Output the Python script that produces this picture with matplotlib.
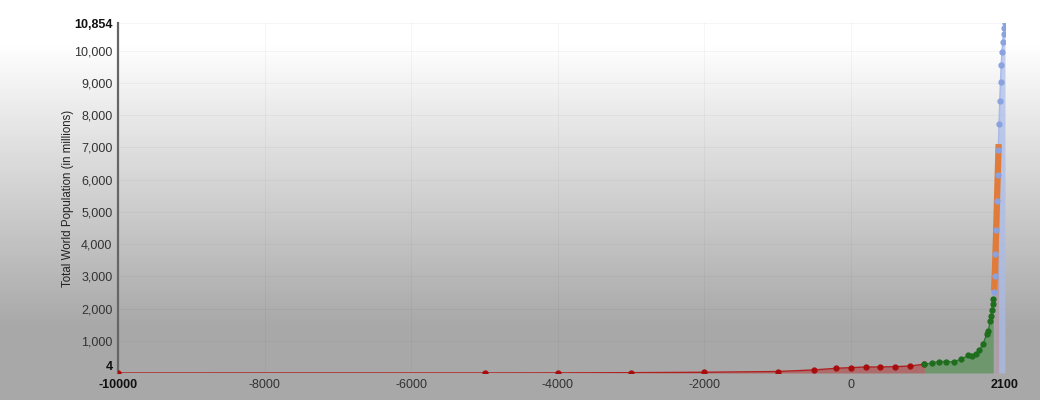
import numpy as np
import matplotlib
matplotlib.use("Agg")
import matplotlib.pyplot as plt
from matplotlib.colors import LinearSegmentedColormap

# ancient estimates (red)
ancient_years = [-10000, -5000, -4000, -3000, -2000, -1000, -500, -200, 0, 200, 400, 600, 800, 1000]
ancient_pop = [4, 5, 7, 14, 27, 50, 100, 150, 170, 190, 190, 200, 220, 275]

# historical estimates (green)
hist_years = [1000, 1100, 1200, 1300, 1400, 1500, 1600, 1650, 1700, 1750, 1800, 1850, 1870,
              1900, 1910, 1920, 1930, 1940]
hist_pop = [275, 310, 360, 360, 350, 430, 550, 545, 600, 720, 900, 1200, 1300,
            1620, 1780, 1950, 2150, 2300]

# annual estimates (orange)
annual_years = list(range(1950, 2014))
annual_pop = [2557, 2594, 2636, 2682, 2730, 2782, 2835, 2891, 2948, 3001,
              3043, 3084, 3140, 3210, 3281, 3350, 3421, 3490, 3562, 3637,
              3713, 3790, 3867, 3942, 4017, 4089, 4160, 4232, 4304, 4379,
              4451, 4534, 4615, 4696, 4775, 4856, 4941, 5029, 5117, 5205,
              5295, 5381, 5463, 5543, 5622, 5700, 5777, 5854, 5929, 6004,
              6080, 6155, 6230, 6305, 6380, 6456, 6532, 6609, 6687, 6764,
              6843, 6921, 7002, 7100]

# UN estimates / projections (blue)
proj_years = [1950, 1960, 1970, 1980, 1990, 2000, 2010, 2020, 2030, 2040,
              2050, 2060, 2070, 2080, 2090, 2100]
proj_pop = [2526, 3026, 3691, 4449, 5321, 6128, 6916, 7717, 8425, 9039,
            9551, 9957, 10271, 10527, 10712, 10854]

y_ticks = [4, 1000, 2000, 3000, 4000, 5000, 6000, 7000, 8000, 9000, 10000, 10854]
x_ticks = [-10000, -8000, -6000, -4000, -2000, 0, 2100]

plt.rcParams['font.family'] = ['Liberation Sans', 'DejaVu Sans']

fig = plt.figure(figsize=(10.4, 4), dpi=100)

# background gradient
bg = fig.add_axes([0, 0, 1, 1], zorder=-10)
grad_cmap = LinearSegmentedColormap.from_list(
    "bg", [(0, "#ffffff"), (0.11, "#ffffff"), (0.82, "#a8a8a8"), (1, "#a8a8a8")])
bg.imshow(np.linspace(0, 1, 400).reshape(-1, 1), aspect="auto", cmap=grad_cmap,
          extent=[0, 1, 0, 1], origin="upper")
bg.axis("off")

ax = fig.add_axes([118 / 1040, 27 / 400, 887 / 1040, 350 / 400])
ax.set_facecolor("none")

ax.fill_between(ancient_years, ancient_pop, 4, color="#b23a3a", alpha=0.55, lw=0, zorder=2)
ax.plot(ancient_years, ancient_pop, color="#b02020", lw=1, marker="o", ms=3.5,
        mfc="#a80d0d", mec="#a80d0d", zorder=5)

ax.fill_between(hist_years, hist_pop, 4, color="#3f8a3f", alpha=0.55, lw=0, zorder=2)
ax.plot(hist_years, hist_pop, color="#2a7a2a", lw=1, marker="o", ms=3.5,
        mfc="#1e6e1e", mec="#1e6e1e", zorder=5)

ax.fill_between(proj_years, proj_pop, 4, color="#a9bbea", alpha=0.7, lw=0, zorder=3)
ax.plot(proj_years, proj_pop, color="#a9bbea", lw=1.2, zorder=4)

ax.fill_between(annual_years, annual_pop, 4, color="#c06a40", alpha=0.3, lw=0, zorder=3)
ax.plot(annual_years, annual_pop, color="#e07b39", lw=4.5, solid_capstyle="butt", zorder=6)

ax.plot(proj_years, proj_pop, ls="none", marker="o", ms=3.5,
        mfc="#8aa2e0", mec="#8aa2e0", zorder=7)

ax.set_xlim(-10000, 2100)
ax.set_ylim(4, 10854)
ax.set_xticks(x_ticks)
ax.set_yticks(y_ticks)
ax.set_xticklabels([str(v) for v in x_ticks])
ax.set_yticklabels(["{:,}".format(v) for v in y_ticks])
ax.tick_params(length=0, labelsize=9, labelcolor="#333333")
ax.tick_params(axis="y", pad=4)
ax.tick_params(axis="x", pad=4)
for lab in [ax.get_xticklabels()[0], ax.get_xticklabels()[-1],
            ax.get_yticklabels()[0], ax.get_yticklabels()[-1]]:
    lab.set_fontweight("bold")
    lab.set_color("#111111")
ax.get_yticklabels()[0].set_va("bottom")

ax.grid(True, color="#000000", alpha=0.035, lw=0.8)
ax.set_axisbelow(True)
for side in ["top", "right", "bottom"]:
    ax.spines[side].set_visible(False)
ax.spines["left"].set_color("#666666")
ax.spines["left"].set_linewidth(1.6)

ax.set_ylabel("Total World Population (in millions)", fontsize=8.3, color="#222222")
ax.yaxis.set_label_coords(-0.05, 0.5)

fig.savefig("out.png", dpi=100)
